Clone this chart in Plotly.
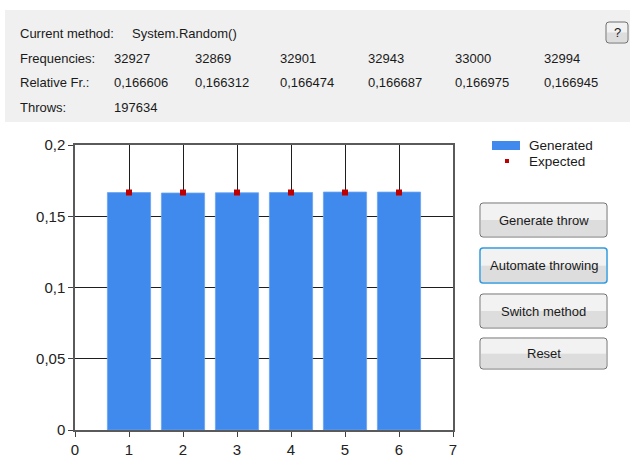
import plotly.graph_objects as go

# ---- data ----
faces = [1, 2, 3, 4, 5, 6]
frequencies = [32927, 32869, 32901, 32943, 33000, 32994]
relative_freq = [0.166606, 0.166312, 0.166474, 0.166687, 0.166975, 0.166945]
expected = [0.166667, 0.166667, 0.166667, 0.166667, 0.166667, 0.166667]
throws = 197634
method = "System.Random()"
y_ticks = [0, 0.05, 0.1, 0.15, 0.2]
x_ticks = [0, 1, 2, 3, 4, 5, 6, 7]
buttons = ["Generate throw", "Automate throwing", "Switch method", "Reset"]

W, H = 630, 460
L, R, T, B = 75, 177, 145, 30
PW, PH = W - L - R, H - T - B

def px(x):
    return (x - L) / PW

def py(y):
    return (H - B - y) / PH

FONT = "Liberation Sans, Arial, sans-serif"
BLUE = "#418AED"
RED = "#C00000"

fig = go.Figure()
fig.add_trace(go.Bar(x=faces, y=relative_freq, width=0.8, name="Generated",
                     marker=dict(color=BLUE, line=dict(width=0.8, color="#6aa3f0")),
                     showlegend=False, hoverinfo="x+y"))
fig.add_trace(go.Scatter(x=faces, y=expected, mode="markers", name="Expected",
                         marker=dict(symbol="square", size=6, color=RED),
                         showlegend=False))

shapes = []
annotations = []

# grey info panel
shapes.append(dict(type="rect", xref="paper", yref="paper", layer="below",
                   x0=px(5), x1=px(630), y0=py(122), y1=py(10),
                   fillcolor="#F0F0F0", line=dict(width=0)))

def text(x, y, s, size=13, anchor="left", color="#1a1a1a"):
    annotations.append(dict(xref="paper", yref="paper", x=px(x), y=py(y), text=s,
                            showarrow=False, xanchor=anchor, yanchor="middle",
                            font=dict(family=FONT, size=size, color=color)))

cols = [112, 193, 278, 366, 453, 542]
text(18, 33, "Current method:")
text(130, 33, method)
text(18, 59, "Frequencies:")
text(18, 82, "Relative Fr.:")
text(18, 107, "Throws:")
for cx, f, r in zip(cols, frequencies, relative_freq):
    text(cx, 59, str(f))
    text(cx, 82, f"{r:.6f}".replace(".", ","))
text(112, 107, str(throws))

def button(x0, y0, x1, y1, label, border="#707070", bw=1, size=13):
    mid = (y0 + y1) / 2
    shapes.append(dict(type="rect", xref="paper", yref="paper",
                       x0=px(x0 + 1), x1=px(x1 - 1), y0=py(mid), y1=py(y0 + 1),
                       fillcolor="#F2F2F2", line=dict(width=0)))
    shapes.append(dict(type="rect", xref="paper", yref="paper",
                       x0=px(x0 + 1), x1=px(x1 - 1), y0=py(y1 - 1), y1=py(mid),
                       fillcolor="#DDDDDD", line=dict(width=0)))
    r = 3
    path = (f"M {px(x0 + r)},{py(y0)} L {px(x1 - r)},{py(y0)} "
            f"Q {px(x1)},{py(y0)} {px(x1)},{py(y0 + r)} L {px(x1)},{py(y1 - r)} "
            f"Q {px(x1)},{py(y1)} {px(x1 - r)},{py(y1)} L {px(x0 + r)},{py(y1)} "
            f"Q {px(x0)},{py(y1)} {px(x0)},{py(y1 - r)} L {px(x0)},{py(y0 + r)} "
            f"Q {px(x0)},{py(y0)} {px(x0 + r)},{py(y0)} Z")
    shapes.append(dict(type="path", xref="paper", yref="paper", path=path,
                       line=dict(color=border, width=bw)))
    text((x0 + x1) / 2, mid, label, size=size, anchor="center")

btn_y = [(203, 237), (248, 283), (294, 328), (338, 369)]
for (y0, y1), lab in zip(btn_y, buttons):
    if lab == "Automate throwing":
        button(480, y0, 607, y1, lab, border="#3399DD", bw=1.5)
    else:
        button(480, y0, 607, y1, lab)
button(606, 22, 628, 43, "?", size=13)

# custom legend
shapes.append(dict(type="rect", xref="paper", yref="paper",
                   x0=px(492), x1=px(520), y0=py(150), y1=py(141),
                   fillcolor=BLUE, line=dict(width=0)))
shapes.append(dict(type="rect", xref="paper", yref="paper",
                   x0=px(505), x1=px(509), y0=py(163), y1=py(159),
                   fillcolor=RED, line=dict(width=0)))
text(527, 145, "Generated", size=13.5)
text(527, 161, "Expected", size=13.5)

axis_common = dict(showline=True, mirror=True, linecolor="#5a5a5a", linewidth=1.5,
                   ticks="outside", ticklen=5, tickcolor="#404040", tickwidth=1,
                   zeroline=False, showgrid=True, gridcolor="#1e1e1e", gridwidth=1,
                   automargin=False,
                   tickfont=dict(family=FONT, size=15, color="#222222"))

fig.update_layout(
    width=W, height=H,
    margin=dict(l=L, r=R, t=T, b=B),
    paper_bgcolor="white", plot_bgcolor="white",
    separators=",.",
    showlegend=False,
    xaxis=dict(range=[0, 7], tickvals=x_ticks, ticktext=[str(v) for v in x_ticks], **axis_common),
    yaxis=dict(range=[0, 0.2], tickvals=y_ticks,
               ticktext=[("%g" % v).replace(".", ",") for v in y_ticks], **axis_common),
    shapes=shapes,
    annotations=annotations,
)

fig.write_html("out.html", config={"displayModeBar": False},
               post_script="document.body.style.margin='0';document.body.style.overflow='hidden';")
